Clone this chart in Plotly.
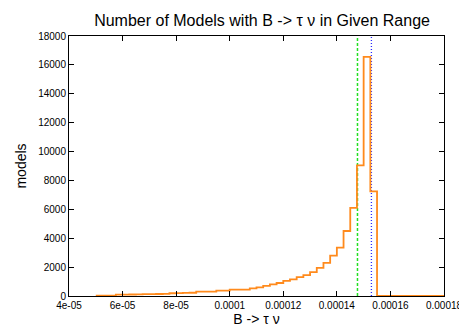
import plotly.graph_objects as go

# Histogram of B -> tau nu values, bin width 2.5e-6 (left edges)
bin_width = 2.5e-6
bin_start = 5.0e-05
counts = [
    20, 25, 30, 90, 100, 105, 115, 125, 135, 140, 150, 190,
    200, 210, 225, 300, 300, 300, 370, 370, 440, 440, 440, 530,
    600, 700, 800, 900, 1050, 1150, 1300, 1450, 1650, 1950, 2300,
    2800, 3350, 4500, 6100, 9050, 16550, 7250,
]
# empty bins out to the end of the range
x_max = 1.8e-04

# reference lines
green_x = 1.477e-04
blue_x = 1.529e-04

x_tickvals = [4e-05, 6e-05, 8e-05, 1e-04, 1.2e-04, 1.4e-04, 1.6e-04, 1.8e-04]
x_ticktext = ["4e-05", "6e-05", "8e-05", "0.0001", "0.00012", "0.00014", "0.00016", "0.00018"]
y_tickvals = [0, 2000, 4000, 6000, 8000, 10000, 12000, 14000, 16000, 18000]
y_ticktext = [str(v) for v in y_tickvals]

# build step outline from bin edges
edges = [bin_start + i * bin_width for i in range(len(counts) + 1)]
step_x = edges[:-1] + [edges[-1], x_max]
step_y = counts + [0, 0]

fig = go.Figure()

fig.add_trace(go.Scatter(
    x=[green_x, green_x], y=[0, 18000], mode="lines",
    line=dict(color="#22e022", width=1.5, dash="3px,2px"),
))
fig.add_trace(go.Scatter(
    x=[blue_x, blue_x], y=[0, 18000], mode="lines",
    line=dict(color="#2a2aff", width=1.3, dash="1px,2px"),
))
fig.add_trace(go.Scatter(
    x=step_x, y=step_y, mode="lines", line_shape="hv",
    line=dict(color="#ff8a1c", width=1.8),
))

font = "Liberation Sans, Arial, sans-serif"
fig.update_layout(
    width=467, height=327,
    margin=dict(l=57, r=16, t=28, b=28),
    paper_bgcolor="white", plot_bgcolor="white",
    showlegend=False,
    font=dict(family=font, color="black", size=10),
    title=dict(
        text="Number of Models with B -> τ ν in Given Range",
        x=0.544, xanchor="center", y=0.963, yanchor="middle",
        font=dict(size=16, family=font, color="black"),
    ),
)
fig.update_xaxes(
    range=[4e-05, 1.8e-04], tickvals=x_tickvals, ticktext=x_ticktext,
    ticks="inside", ticklen=5, tickcolor="black", tickwidth=1,
    showline=True, linecolor="black", linewidth=1, mirror="ticks",
    showgrid=False, zeroline=False, ticklabeloverflow="allow",
    tickfont=dict(size=10),
    title=dict(text="B -> τ ν", font=dict(size=14), standoff=2),
)
fig.update_yaxes(
    range=[0, 18000], tickvals=y_tickvals, ticktext=y_ticktext,
    ticks="inside", ticklen=5, tickcolor="black", tickwidth=1,
    showline=True, linecolor="black", linewidth=1, mirror="ticks",
    showgrid=False, zeroline=False,
    tickfont=dict(size=10),
    title=dict(text="models", font=dict(size=14), standoff=8),
)

fig.write_html("out.html")
